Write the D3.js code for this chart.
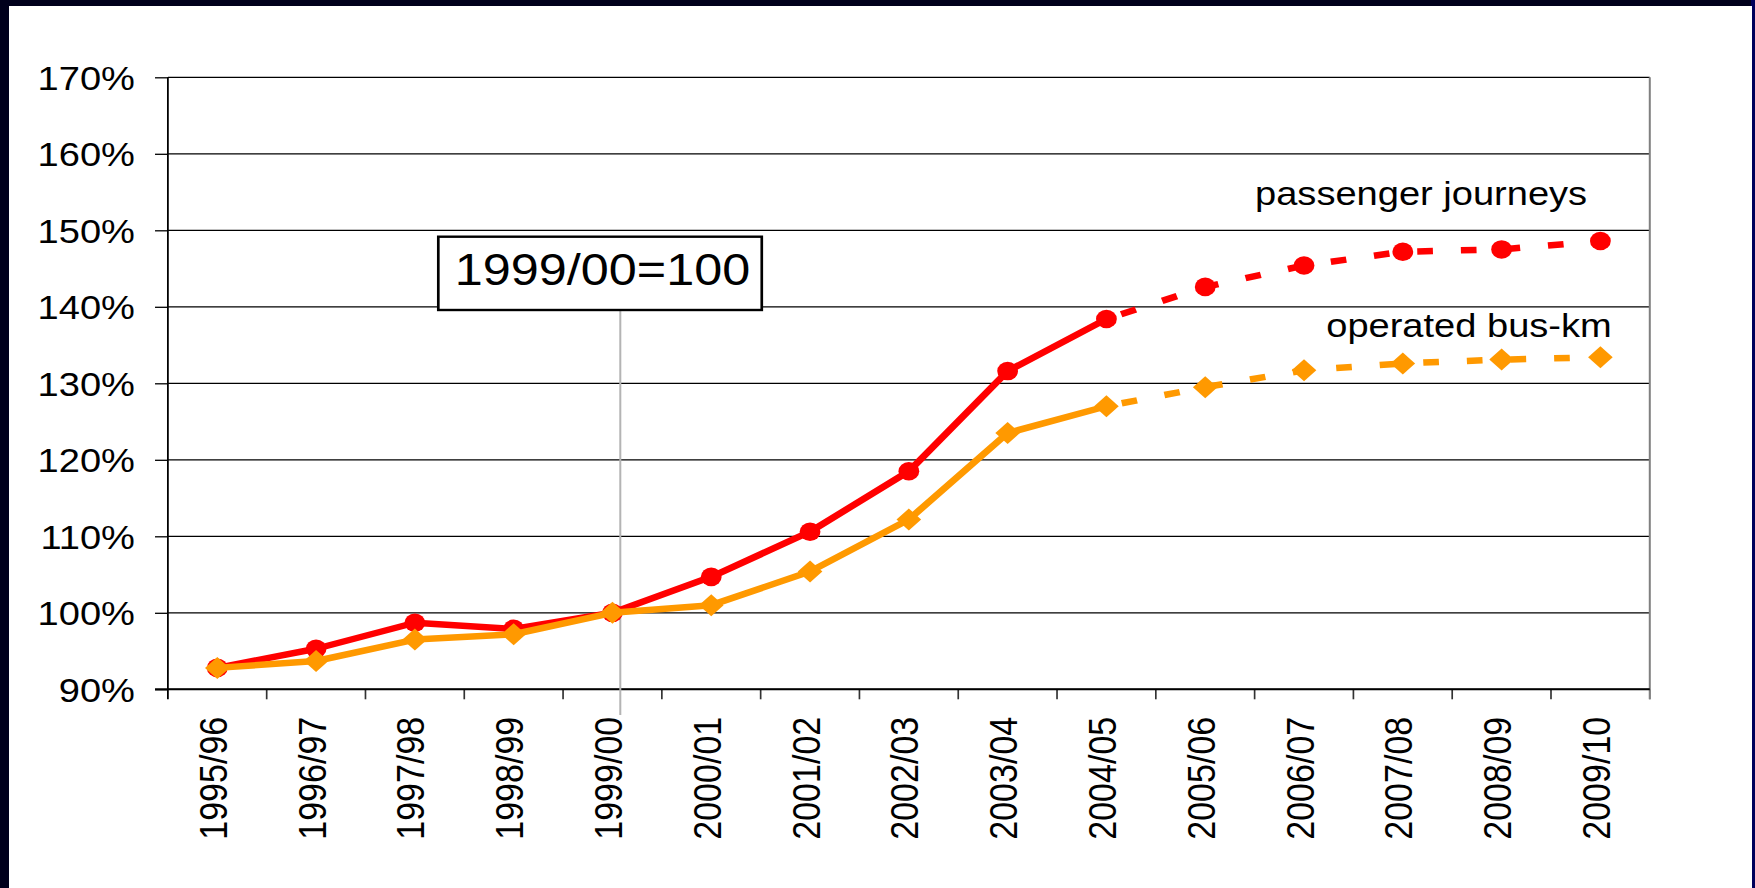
<!DOCTYPE html>
<html>
<head>
<meta charset="utf-8">
<script src="https://cdn.jsdelivr.net/npm/d3@7"></script>
<style>
body { margin: 0; background: #fff; }
text { font-family: "Liberation Sans", Arial, sans-serif; fill: #000; }
</style>
</head>
<body>
<div class="d3-container"></div>
<script>
const w = 1755
const h = 888
// the original picture was stretched sideways, so everything is drawn in a
// 1568 wide space and scaled back out
const sx = w / 1568

const years = ['1995/96', '1996/97', '1997/98', '1998/99', '1999/00', '2000/01', '2001/02',
    '2002/03', '2003/04', '2004/05', '2005/06', '2006/07', '2007/08', '2008/09', '2009/10']
const journeys = [92.8, 95.3, 98.7, 97.9, 100, 104.7, 110.6, 118.5, 131.6, 138.4, 142.6, 145.4, 147.2, 147.5, 148.6]
const busKm = [92.8, 93.7, 96.5, 97.2, 100, 101.0, 105.4, 112.2, 123.5, 127.0, 129.5, 131.7, 132.6, 133.1, 133.4]
const yTicks = [90, 100, 110, 120, 130, 140, 150, 160, 170]
const lastActual = '2004/05'
const baseYear = '1999/00'

const mLeft = 150
const mRight = 1474
const mTop = 77.3
const mBottom = 689.3

const svg = d3.select('.d3-container')
    .append('svg')
    .attr('width', w)
    .attr('height', h)

// dark frame
svg.append('rect').attr('width', w).attr('height', h).attr('fill', '#00001c')
svg.append('rect').attr('x', w - 4).attr('width', 4).attr('height', h).attr('fill', '#00005a')
svg.append('rect').attr('x', 9).attr('y', 6).attr('width', w - 12).attr('height', h - 6).attr('fill', '#fff')

const g = svg.append('g').attr('transform', `scale(${sx},1)`)

const x = d3.scaleBand().domain(years).range([mLeft, mRight])
const cx = (d) => x(d) + x.bandwidth() / 2
const y = d3.scaleLinear().domain([90, 170]).range([mBottom, mTop])

// gridlines
g.append('g')
    .selectAll('line')
    .data(yTicks)
    .enter()
    .append('line')
    .attr('x1', mLeft)
    .attr('x2', mRight)
    .attr('y1', (d) => y(d))
    .attr('y2', (d) => y(d))
    .attr('stroke', '#000')
    .attr('stroke-width', 1.3)

// right border of plot
g.append('line')
    .attr('x1', mRight).attr('x2', mRight)
    .attr('y1', mTop).attr('y2', mBottom + 10)
    .attr('stroke', '#808080')
    .attr('stroke-width', 1.8)

// y axis
const yAxis = d3.axisLeft(y)
    .tickValues(yTicks)
    .tickFormat((d) => d + '%')
    .tickSize(11.5)
    .tickPadding(18)
    .tickSizeOuter(0)

const ya = g.append('g')
    .attr('transform', `translate(${mLeft},0)`)
    .call(yAxis)
ya.select('.domain').remove()
ya.selectAll('line').attr('stroke', '#000').attr('stroke-width', 1.3)
ya.selectAll('text').attr('font-size', 34).attr('dy', '0.35em')

g.append('line')
    .attr('x1', mLeft).attr('x2', mLeft)
    .attr('y1', mTop).attr('y2', mBottom + 10)
    .attr('stroke', '#000')
    .attr('stroke-width', 1.6)

// x axis: ticks sit between the categories
const xa = g.append('g')
    .attr('transform', `translate(0,${mBottom})`)
    .call(d3.axisBottom(x).tickSize(0).tickPadding(0))
xa.select('.domain').remove()
xa.selectAll('text')
    .attr('font-size', 34)
    .attr('text-anchor', 'end')
    .attr('transform', 'translate(0,27.5) rotate(-90)')
    .attr('x', 0)
    .attr('y', 0)
    .attr('dy', '0.25em')

xa.selectAll('.sep')
    .data(years.slice(1).concat(['end']))
    .enter()
    .append('line')
    .attr('class', 'sep')
    .attr('x1', (d) => d === 'end' ? mRight : x(d))
    .attr('x2', (d) => d === 'end' ? mRight : x(d))
    .attr('y1', 0)
    .attr('y2', 10)
    .attr('stroke', (d) => d === 'end' ? '#808080' : '#333')
    .attr('stroke-width', 1.5)

g.append('line')
    .attr('x1', mLeft - 11.5).attr('x2', mRight)
    .attr('y1', mBottom).attr('y2', mBottom)
    .attr('stroke', '#000')
    .attr('stroke-width', 2)

// base year marker
const baseX = cx(baseYear) + 7
g.append('line')
    .attr('x1', baseX).attr('x2', baseX)
    .attr('y1', 310).attr('y2', 715)
    .attr('stroke', '#b4b4b4')
    .attr('stroke-width', 1.8)

const box = g.append('g')
box.append('rect')
    .attr('x', 391.6)
    .attr('y', 236.7)
    .attr('width', 289)
    .attr('height', 73.3)
    .attr('fill', '#fff')
    .attr('stroke', '#000')
    .attr('stroke-width', 2.4)
box.append('text')
    .attr('x', 538.3)
    .attr('y', 285)
    .attr('text-anchor', 'middle')
    .attr('font-size', 45)
    .text('1999/00=100')

// series
const series = [
    { name: 'passenger journeys', values: journeys, color: '#ff0000', shape: 'circle', lx: 1418, ly: 205 },
    { name: 'operated bus-km', values: busKm, color: '#ff9900', shape: 'diamond', lx: 1440, ly: 336.7 }
]

const split = years.indexOf(lastActual)
const line = d3.line()
    .x((d) => cx(d.year))
    .y((d) => y(d.v))

series.forEach((s) => {
    const pts = years.map((yr, i) => ({ year: yr, v: s.values[i] }))
    const sg = g.append('g')

    sg.append('path')
        .datum(pts.slice(0, split + 1))
        .attr('d', line)
        .attr('fill', 'none')
        .attr('stroke', s.color)
        .attr('stroke-width', 6.5)
        .attr('stroke-linejoin', 'round')

    sg.append('path')
        .datum(pts.slice(split))
        .attr('d', line)
        .attr('fill', 'none')
        .attr('stroke', s.color)
        .attr('stroke-width', 6.5)
        .attr('stroke-dasharray', '14,25')
        .attr('stroke-dashoffset', -14)

    if (s.shape === 'circle') {
        sg.selectAll('circle')
            .data(pts)
            .enter()
            .append('circle')
            .attr('cx', (d) => cx(d.year))
            .attr('cy', (d) => y(d.v))
            .attr('r', 9.3)
            .attr('fill', s.color)
    } else {
        sg.selectAll('path.mk')
            .data(pts)
            .enter()
            .append('path')
            .attr('class', 'mk')
            .attr('d', 'M0,-11L11,0L0,11L-11,0Z')
            .attr('transform', (d) => `translate(${cx(d.year)},${y(d.v)})`)
            .attr('fill', s.color)
    }

    g.append('text')
        .attr('x', s.lx)
        .attr('y', s.ly)
        .attr('text-anchor', 'end')
        .attr('font-size', 34)
        .text(s.name)
})
</script>
</body>
</html>
